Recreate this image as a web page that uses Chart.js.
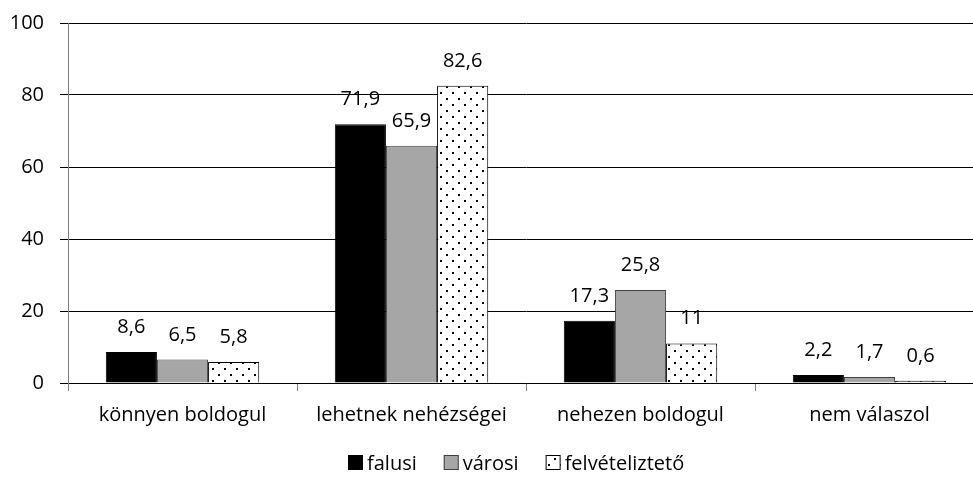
<!DOCTYPE html>
<html>
<head>
<meta charset="utf-8">
<script src="https://cdn.jsdelivr.net/npm/chart.js@4/dist/chart.umd.min.js"></script>
<style>
  html, body { margin: 0; padding: 0; background: #fff; overflow: hidden; }
  #wrap { width: 990px; height: 482px; }
</style>
</head>
<body>
<div id="wrap"><canvas id="chart"></canvas></div>
<script>
const categories = ['könnyen boldogul', 'lehetnek nehézségei', 'nehezen boldogul', 'nem válaszol'];
const seriesNames = ['falusi', 'városi', 'felvételiztető'];
const falusi = [8.6, 71.9, 17.3, 2.2];
const varosi = [6.5, 65.9, 25.8, 1.7];
const felveteliztato = [5.8, 82.6, 11, 0.6];
const yTicks = [0, 20, 40, 60, 80, 100];

const FONT = 'Open Sans';
const FONT_SIZE = 20;

function dotPattern () {
    const c = document.createElement('canvas');
    c.width = 12; c.height = 12;
    const ctx = c.getContext('2d');
    ctx.fillStyle = '#fff';
    ctx.fillRect(0, 0, 12, 12);
    ctx.fillStyle = '#000';
    ctx.fillRect(2, 2, 2, 2);
    ctx.fillRect(8, 8, 2, 2);
    return ctx.createPattern(c, 'repeat');
}

// value above each bar, decimal comma
const valueLabels = {
    id: 'valueLabels',
    afterDatasetsDraw (chart) {
        const ctx = chart.ctx;
        ctx.save();
        ctx.font = FONT_SIZE + 'px "' + FONT + '"';
        ctx.fillStyle = '#000';
        ctx.textAlign = 'center';
        ctx.textBaseline = 'alphabetic';
        chart.data.datasets.forEach((ds, i) => {
            chart.getDatasetMeta(i).data.forEach((bar, j) => {
                const txt = String(ds.data[j]).replace('.', ',');
                ctx.fillText(txt, bar.x, bar.y - 19);
            });
        });
        ctx.restore();
    }
};

// tight legend like the original (small gap between box and text)
const bottomLegend = {
    id: 'bottomLegend',
    afterDraw (chart) {
        const ctx = chart.ctx;
        ctx.save();
        ctx.font = FONT_SIZE + 'px "' + FONT + '"';
        const box = 15, gap = 4, itemGap = 27;
        const items = chart.data.datasets.map(ds => ({ ds, w: ctx.measureText(ds.label).width }));
        const total = items.reduce((s, it) => s + box + gap + it.w, 0) + itemGap * (items.length - 1);
        let x = Math.round(516 - total / 2);
        const base = 470;
        ctx.textBaseline = 'alphabetic';
        ctx.textAlign = 'left';
        items.forEach(it => {
            ctx.fillStyle = it.ds.backgroundColor;
            ctx.fillRect(x, base - box, box, box);
            ctx.strokeStyle = it.ds.borderColor;
            ctx.lineWidth = 1;
            ctx.strokeRect(x + 0.5, base - box + 0.5, box - 1, box - 1);
            ctx.fillStyle = '#000';
            ctx.fillText(it.ds.label, x + box + gap, base);
            x += box + gap + it.w + itemGap;
        });
        ctx.restore();
    }
};

new Chart(document.getElementById('chart'), {
    type: 'bar',
    data: {
        labels: categories,
        datasets: [
            { label: seriesNames[0], data: falusi, backgroundColor: '#000', borderColor: '#000', borderWidth: 1 },
            { label: seriesNames[1], data: varosi, backgroundColor: '#a6a6a6', borderColor: '#404040', borderWidth: 1 },
            { label: seriesNames[2], data: felveteliztato, backgroundColor: dotPattern(), borderColor: '#000', borderWidth: 1 }
        ]
    },
    options: {
        responsive: true,
        maintainAspectRatio: false,
        animation: false,
        layout: { padding: { left: 0, right: 6, top: 23, bottom: 54 } },
        datasets: { bar: { barPercentage: 1, categoryPercentage: 0.67 } },
        scales: {
            x: {
                afterFit (scale) { scale.height = 45; scale.paddingLeft = 0; scale.paddingRight = 0; },
                grid: { display: true, offset: true, drawOnChartArea: false, color: '#808080', tickLength: 8 },
                border: { color: '#000', width: 1 },
                ticks: { color: '#000', font: { family: FONT, size: FONT_SIZE }, padding: 12, maxRotation: 0 }
            },
            y: {
                min: 0, max: 100,
                afterBuildTicks (axis) { axis.ticks = yTicks.map(v => ({ value: v })); },
                afterFit (scale) { scale.width = 68; scale.paddingTop = 0; scale.paddingBottom = 0; },
                grid: { color: '#000', tickLength: 8 },
                border: { color: '#808080', width: 1 },
                ticks: { color: '#000', font: { family: FONT, size: FONT_SIZE }, padding: 16 }
            }
        },
        plugins: {
            legend: { display: false },
            tooltip: { enabled: false }
        }
    },
    plugins: [valueLabels, bottomLegend]
});
</script>
</body>
</html>
